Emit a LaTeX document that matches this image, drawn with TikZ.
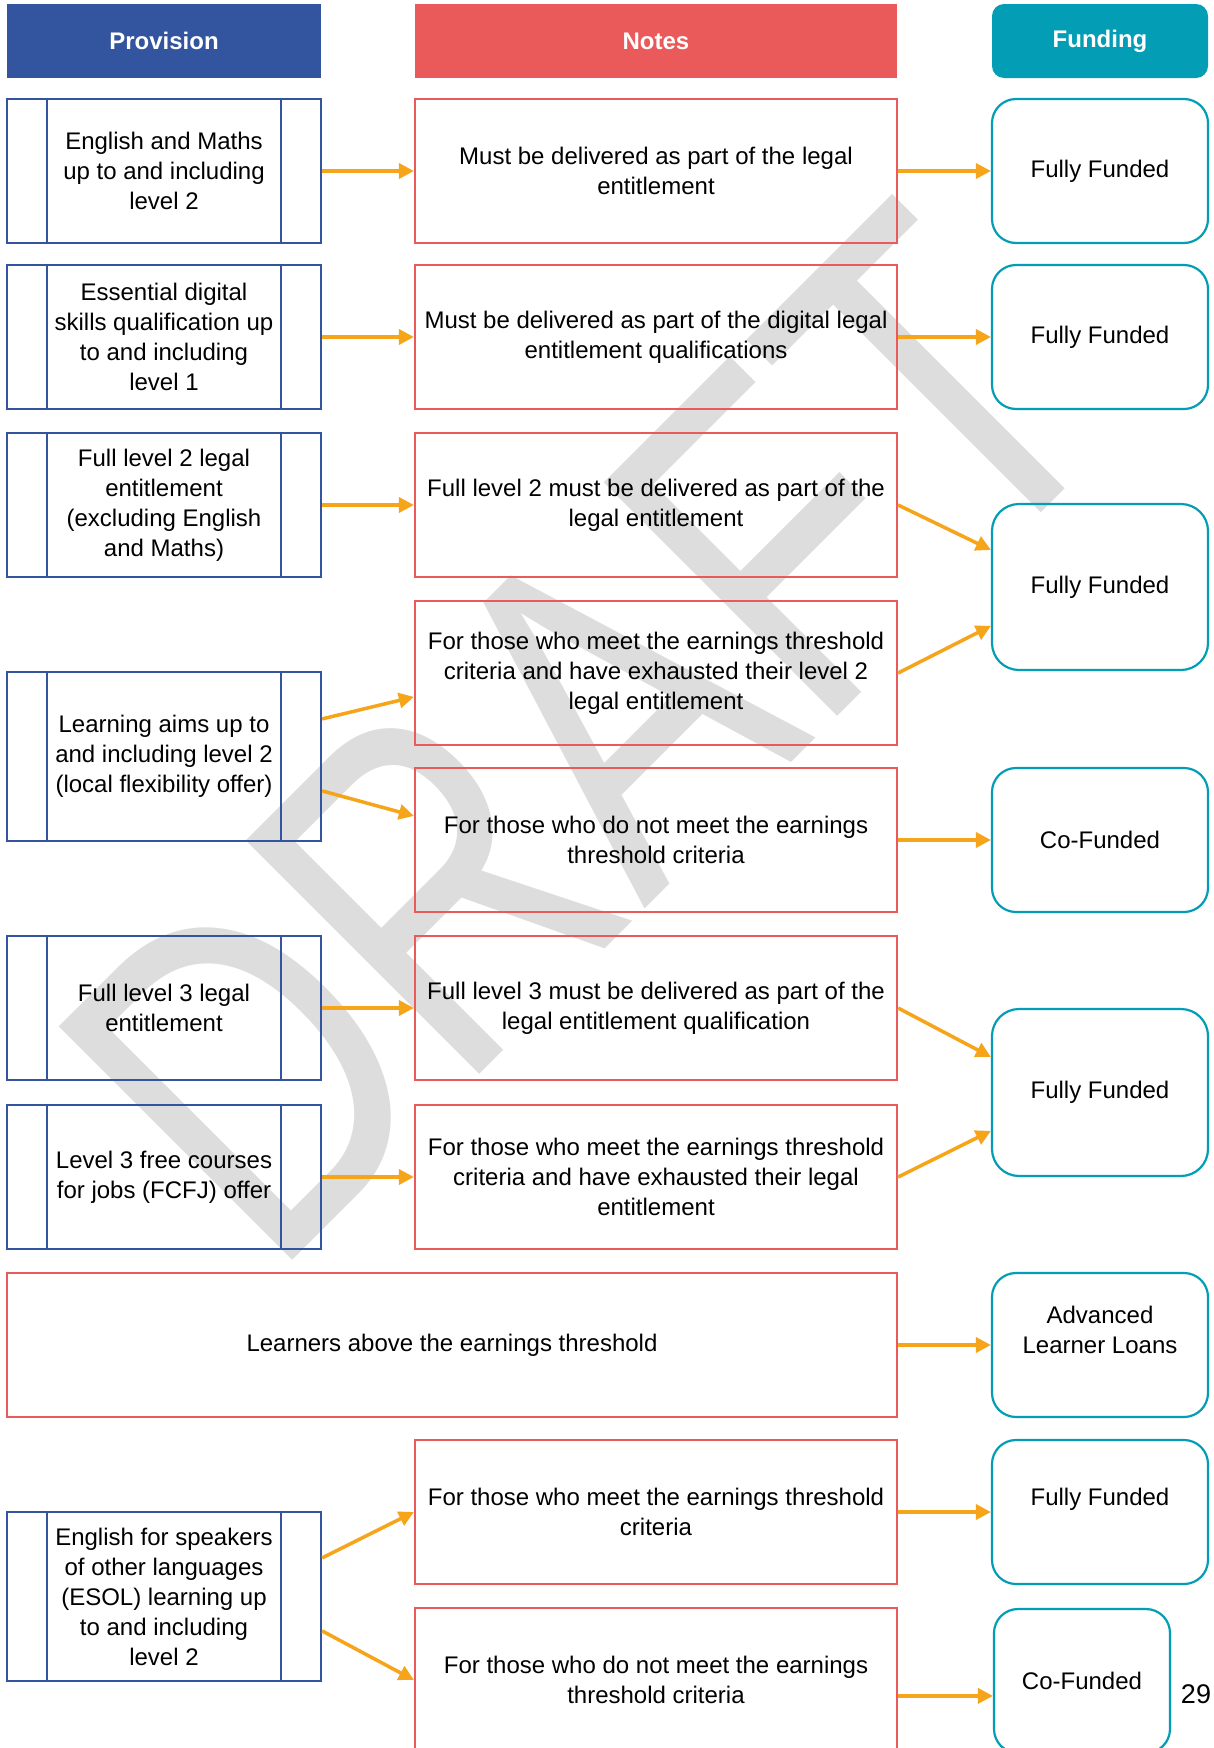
\documentclass[tikz,border=0pt]{standalone}
\usepackage{fontspec}
\setmainfont{Liberation Sans}
\usetikzlibrary{arrows.meta}
\definecolor{provblue}{RGB}{51,84,159}
\definecolor{notesred}{RGB}{234,90,90}
\definecolor{fundteal}{RGB}{3,158,181}
\definecolor{arroworange}{RGB}{246,164,26}
\definecolor{wmgray}{RGB}{221,221,221}
\begin{document}
\begin{tikzpicture}[x=1pt,y=-1pt,
 every node/.style={font=\fontsize{24}{30}\selectfont, align=center, inner sep=0pt, text=black},
 headbase/.style={minimum height=74pt, text=white, font=\fontsize{24}{30}\selectfont\bfseries},
 provhead/.style={headbase, fill=provblue, minimum width=314pt},
 noteshead/.style={headbase, fill=notesred, minimum width=482pt},
 fundhead/.style={headbase, fill=fundteal, minimum width=216pt, rounded corners=12pt},
 provbox/.style={draw=provblue, line width=2.2pt, minimum width=314pt, minimum height=144pt,
   path picture={\draw[provblue, line width=2.2pt]
     ([xshift=40pt]path picture bounding box.north west) -- ([xshift=40pt]path picture bounding box.south west)
     ([xshift=-40pt]path picture bounding box.north east) -- ([xshift=-40pt]path picture bounding box.south east);}},
 notebox/.style={draw=notesred, line width=2.2pt, minimum width=482pt, minimum height=144pt},
 fundbox/.style={draw=fundteal, line width=2.2pt, minimum width=216pt, minimum height=144pt, rounded corners=24pt},
 arr/.style={draw=arroworange, line width=3.5pt, -{Triangle[length=15pt,width=15pt]}},
]
\useasboundingbox (0,0) rectangle (1213,1748);
\clip (0,0) rectangle (1213,1748);
\fill[white] (0,0) rectangle (1213,1748);

% watermark
\node[text=wmgray, rotate=45, font=\fontsize{480}{480}\selectfont] (wm) at (585,735) {\scalebox{0.76}[1]{DRAFT}};

% headers
\node[provhead] (hp) at (164,41) {Provision};
\node[noteshead] (hn) at (656,41) {Notes};
\node[fundhead] (hf) at (1100,41) {Funding};

% row 1
\node[provbox] (p1) at (164,171) {English and Maths\\up to and including\\level 2};
\node[notebox] (n1) at (656,171) {Must be delivered as part of the legal\\entitlement};
\node[fundbox] (f1) at (1100,171) {Fully Funded};
% row 2
\node[provbox] (p2) at (164,337) {Essential digital\\skills qualification up\\to and including\\level 1};
\node[notebox] (n2) at (656,337) {Must be delivered as part of the digital legal\\entitlement qualifications};
\node[fundbox] (f2) at (1100,337) {Fully Funded};
% rows 3-5
\node[provbox] (p3) at (164,505) {Full level 2 legal\\entitlement\\(excluding English\\and Maths)};
\node[notebox] (n3) at (656,505) {Full level 2 must be delivered as part of the\\legal entitlement};
\node[notebox] (n4) at (656,673) {For those who meet the earnings threshold\\criteria and have exhausted their level 2\\legal entitlement};
\node[fundbox, minimum height=166pt, rounded corners=27pt] (f34) at (1100,587) {Fully Funded};
\node[provbox, minimum height=169pt] (p45) at (164,756.5) {Learning aims up to\\and including level 2\\(local flexibility offer)};
\node[notebox] (n5) at (656,840) {For those who do not meet the earnings\\threshold criteria};
\node[fundbox] (f5) at (1100,840) {Co-Funded};
% rows 6-7
\node[provbox] (p6) at (164,1008) {Full level 3 legal\\entitlement};
\node[notebox] (n6) at (656,1008) {Full level 3 must be delivered as part of the\\legal entitlement qualification};
\node[provbox] (p7) at (164,1177) {Level 3 free courses\\for jobs (FCFJ) offer};
\node[notebox] (n7) at (656,1177) {For those who meet the earnings threshold\\criteria and have exhausted their legal\\entitlement};
\node[fundbox, minimum height=167pt, rounded corners=27pt] (f67) at (1100,1092.5) {Fully Funded};
% row 8
\node[notebox, minimum width=890pt] (n8) at (452,1345) {Learners above the earnings threshold};
\node[fundbox] (f8) at (1100,1345) {Advanced\\Learner Loans\\\mbox{}};
% rows 9-10
\node[notebox] (n9) at (656,1512) {For those who meet the earnings threshold\\criteria};
\node[fundbox] (f9) at (1100,1512) {Fully Funded\\\mbox{}};
\node[provbox, minimum height=169pt] (p910) at (164,1596.5) {English for speakers\\of other languages\\(ESOL) learning up\\to and including\\level 2};
\node[notebox] (n10) at (656,1680) {For those who do not meet the earnings\\threshold criteria};
\node[fundbox, minimum width=176pt] (f10) at (1082,1681) {Co-Funded};
\node[font=\fontsize{27}{30}\selectfont] (pg) at (1196,1694) {29};

% arrows
\draw[arr] (p1.east) -- (n1.west);
\draw[arr] (n1.east) -- (f1.west);
\draw[arr] (p2.east) -- (n2.west);
\draw[arr] (n2.east) -- (f2.west);
\draw[arr] (p3.east) -- (n3.west);
\draw[arr] (n3.east) -- ([yshift=-47pt]f34.north west);
\draw[arr] (n4.east) -- ([yshift=-123pt]f34.north west);
\draw[arr] ([yshift=-48pt]p45.north east) -- ([yshift=-97pt]n4.north west);
\draw[arr] ([yshift=-120pt]p45.north east) -- ([yshift=-49pt]n5.north west);
\draw[arr] (n5.east) -- (f5.west);
\draw[arr] (p6.east) -- (n6.west);
\draw[arr] (n6.east) -- ([yshift=-49pt]f67.north west);
\draw[arr] (p7.east) -- (n7.west);
\draw[arr] (n7.east) -- ([yshift=-123pt]f67.north west);
\draw[arr] (n8.east) -- (f8.west);
\draw[arr] ([yshift=-47pt]p910.north east) -- (n9.west);
\draw[arr] ([yshift=-120pt]p910.north east) -- (n10.west);
\draw[arr] (n9.east) -- (f9.west);
\draw[arr] ([yshift=-89pt]n10.north east) -- ([yshift=-88pt]f10.north west);
\end{tikzpicture}
\end{document}
